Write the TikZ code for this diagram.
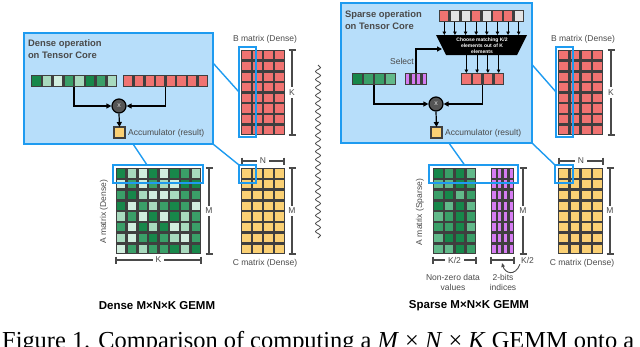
\documentclass[tikz,border=0pt]{standalone}
\usepackage{fontspec}
\setmainfont{Liberation Sans}
\newfontfamily\capfont{Liberation Serif}
\usetikzlibrary{arrows.meta,calc,decorations.pathmorphing}
\definecolor{panelfill}{HTML}{B7DEFA}
\definecolor{panelblue}{HTML}{1E9BF0}
\definecolor{gridc}{HTML}{3F3F3F}
\definecolor{g1}{HTML}{17874A}
\definecolor{g2}{HTML}{3A9F68}
\definecolor{g3}{HTML}{A8DABE}
\definecolor{g4}{HTML}{D2EEDF}
\definecolor{g5}{HTML}{62B98A}
\definecolor{cr}{HTML}{F07371}
\definecolor{cy}{HTML}{FAD074}
\definecolor{cp}{HTML}{D57CF2}
\definecolor{cg}{HTML}{E4E4E4}
\definecolor{txt}{HTML}{4A4A4A}
\definecolor{mulc}{HTML}{555555}
\newcommand\labfont{\fontsize{8.5}{10}\selectfont}
\newcommand\ttlfont{\bfseries\fontsize{9.4}{12.5}\selectfont}
\newcommand\gemmfont{\bfseries\fontsize{11.5}{13}\selectfont}
\newcommand\chsfont{\bfseries\fontsize{5}{5.8}\selectfont}
\def\gp{1.25}
\newcommand\gridbg[4]{\fill[gridc] ({#1-0.4},{#2-0.4}) rectangle ({#3+0.4},{#4+0.4});}
\newcommand\unigrid[7]{\foreach \i in {1,...,#5}{\foreach \j in {1,...,#6}{\fill[#7] ({#1+(\i-1)*#3+\gp},{#2+(\j-1)*#4+\gp}) rectangle ({#1+\i*#3-\gp},{#2+\j*#4-\gp});}}}
\newcommand\patgrid[5]{\foreach \rw [count=\j from 0] in {#5}{\foreach \cc [count=\i from 0] in \rw{\fill[\cc] ({#1+\i*#3+\gp},{#2+\j*#4+\gp}) rectangle ({#1+(\i+1)*#3-\gp},{#2+(\j+1)*#4-\gp});}}}
\newcommand\vdim[5]{\draw[dim] ({#1-3.5},#2) -- ({#1+3.5},#2) (#1,#2) -- (#1,#3) ({#1-3.5},#3) -- ({#1+3.5},#3); \node[dimlab] (#5) at (#1,{(#2+#3)/2}) {#4};}
\newcommand\hdim[5]{\draw[dim] (#2,{#1-3.5}) -- (#2,{#1+3.5}) (#2,#1) -- (#3,#1) (#3,{#1-3.5}) -- (#3,{#1+3.5}); \node[dimlab, inner xsep=3pt] (#5) at ({(#2+#3)/2},#1) {#4};}
\begin{document}
\begin{tikzpicture}[x=1pt,y=-1pt,
  box/.style={anchor=north west, inner sep=0pt, outer sep=0pt},
  panel/.style={box, draw=panelblue, fill=panelfill, line width=1.8pt},
  hl/.style={box, draw=panelblue, line width=1.8pt},
  link/.style={draw=panelblue, line width=1.4pt},
  arr/.style={line width=1.2pt, -{Triangle[length=5pt,width=5pt]}},
  sarr/.style={line width=0.9pt, -{Triangle[length=3.5pt,width=3.5pt]}},
  dim/.style={line width=1.1pt, draw=txt},
  dimlab/.style={fill=white, inner xsep=1pt, inner ysep=2.5pt, text=txt, font=\labfont},
  lbl/.style={text=txt, font=\labfont, inner sep=1pt},
  mul/.style={circle, fill=mulc, draw=black, line width=1.2pt, minimum size=14pt, inner sep=0pt, text=white!85!black, font=\fontsize{7}{7}\selectfont},
  acc/.style={box, fill=cy, draw=gridc, line width=1.2pt, minimum width=11pt, minimum height=11pt}
]
\useasboundingbox (0,0) rectangle (640,346);
\clip (0,0) rectangle (640,346);

%================ LEFT: dense =================
\node[panel, minimum width=189pt, minimum height=111pt] (lpanel) at (24,33) {};
\node[box, align=left, font=\ttlfont, text=txt] (ltitle) at (28,39.5) {Dense operation\\on Tensor Core};
% rows
\node[box, minimum width=86pt, minimum height=12pt] (lgreen) at (31,75) {};
\gridbg{31}{75}{117}{87}
\patgrid{31}{75}{10.75}{12}{{g1,g3,g4,g2,g3,g1,g2,g3}}
\node[box, minimum width=85pt, minimum height=12pt] (lred) at (123,75) {};
\gridbg{123}{75}{208}{87}
\unigrid{123}{75}{10.625}{12}{8}{1}{cr}
\node[mul] (lmul) at (119,106) {x};
\node[acc] (lacc) at (114,127) {};
\node[lbl, anchor=west] (lacclab) at (127,133) {Accumulator (result)};
\draw[arr] (lgreen.south) |- (lmul.west);
\draw[arr] (lred.south) |- (lmul.east);
\draw[arr] (lmul.south) -- (lacc.north);

% B matrix
\node[lbl] (lblab) at (265,39) {B matrix (Dense)};
\gridbg{241}{50}{285}{135}
\unigrid{241}{50}{11}{10.625}{4}{8}{cr}
\vdim{292}{50}{135}{K}{lbk}
% C matrix
\gridbg{241}{168}{285}{254}
\unigrid{241}{168}{11}{10.75}{4}{8}{cy}
\vdim{292}{168}{254}{M}{lcm}
\hdim{161}{242}{284}{N}{lcn}
\node[lbl] (lclab) at (265,263) {C matrix (Dense)};
% A matrix
\gridbg{116}{168}{201}{254}
\patgrid{116}{168}{10.625}{10.75}{{g1,g3,g4,g1,g4,g1,g2,g3},{g4,g2,g4,g2,g3,g4,g1,g1},{g2,g1,g3,g4,g4,g3,g2,g2},{g1,g4,g2,g3,g2,g1,g2,g4},{g3,g2,g4,g1,g4,g1,g3,g2},{g2,g4,g1,g3,g1,g4,g3,g2},{g3,g4,g2,g1,g2,g3,g4,g2},{g4,g2,g3,g2,g2,g1,g3,g1}}
\vdim{209}{168}{254}{M}{lam}
\hdim{260}{116}{201}{K}{lak}
\node[lbl, rotate=90] (lalab) at (104,212) {A matrix (Dense)};
% highlights
\node[hl, minimum width=17pt, minimum height=90pt] (lbh) at (239,47) {};
\node[hl, minimum width=17pt, minimum height=18pt] (lch) at (239,165) {};
\node[hl, minimum width=90pt, minimum height=18pt] (lah) at (113,165) {};
\draw[link] ($(lpanel.north east)!0.27!(lpanel.south east)$) -- (lbh.west);
\draw[link] (lpanel.south east) -- (lch.north west);
\draw[link] ($(lpanel.south west)!0.577!(lpanel.south east)$) -- ($(lah.north west)!0.378!(lah.north east)$);
\node[font=\gemmfont] (ltit) at (157,306) {Dense M×N×K GEMM};

% separator
\coordinate (wt) at (318,65);
\coordinate (wb) at (318,238);
\draw[txt, line width=0.8pt, decorate, decoration={snake, amplitude=2.5pt, segment length=8pt}] (wt) -- (wb);

%================ RIGHT: sparse =================
\node[panel, minimum width=191pt, minimum height=140pt] (rpanel) at (341,3) {};
\node[box, align=left, font=\ttlfont, text=txt] (rtitle) at (345,10.5) {Sparse operation\\on Tensor Core};
% top row
\node[box, minimum width=85pt, minimum height=12pt] (rtop) at (439,10) {};
\gridbg{439}{10}{524}{22}
\patgrid{439}{10}{10.625}{12}{{cr,cg,cg,cr,cg,cr,cr,cg}}
% chooser
\fill[black] (436,35) -- (527,35) -- (517,55) -- (446,55) -- cycle;
\coordinate (trapT) at (482,35);
\coordinate (trapB) at (482,55);
\coordinate (trapL) at (442,49);
\node[font=\chsfont, text=white, align=center, inner sep=0pt] (chooser) at (482,46) {Choose matching K/2\\elements out of K\\elements};
\foreach \i in {1,...,8}{
  \path ($(rtop.south west)!{(\i-0.5)/8}!(rtop.south east)$) coordinate (tt);
  \draw[sarr] (tt) -- (tt |- trapT);
}
% rows
\node[box, minimum width=44pt, minimum height=12pt] (rgreen) at (352,73) {};
\gridbg{352}{73}{396}{85}
\patgrid{352}{73}{11}{12}{{g1,g2,g2,g5}}
\node[box, minimum width=22pt, minimum height=12pt] (rpurp) at (405,73) {};
\gridbg{405}{73}{427}{85}
\unigrid{405}{73}{5.5}{12}{4}{1}{cp}
\node[box, minimum width=43pt, minimum height=12pt] (rred) at (461,73) {};
\gridbg{461}{73}{504}{85}
\unigrid{461}{73}{10.75}{12}{4}{1}{cr}
\foreach \i in {1,...,4}{
  \path ($(rred.north west)!{(\i-0.5)/4}!(rred.north east)$) coordinate (tb);
  \draw[sarr] (tb |- trapB) -- (tb);
}
\node[lbl, anchor=east] (sel) at (415,61) {Select};
\draw[arr] (rpurp.north) |- (trapL);
\node[mul] (rmul) at (436,104) {x};
\node[acc] (racc) at (431,127) {};
\node[lbl, anchor=west] (racclab) at (444,133) {Accumulator (result)};
\draw[arr] (rgreen.south) |- (rmul.west);
\draw[arr] (rred.south) |- (rmul.east);
\draw[arr] (rmul.south) -- (racc.north);

% B matrix
\node[lbl] (rblab) at (583,39) {B matrix (Dense)};
\gridbg{558}{50}{603}{135}
\unigrid{558}{50}{11.25}{10.625}{4}{8}{cr}
\vdim{611}{50}{135}{K}{rbk}
% C matrix
\gridbg{558}{168}{603}{254}
\unigrid{558}{168}{11.25}{10.75}{4}{8}{cy}
\vdim{610}{168}{254}{M}{rcm}
\hdim{161}{559}{603}{N}{rcn}
\node[lbl] (rclab) at (582,263) {C matrix (Dense)};
% A sparse
\gridbg{433}{168}{476}{254}
\patgrid{433}{168}{10.75}{10.75}{{g1,g2,g1,g5},{g5,g5,g1,g2},{g2,g1,g5,g2},{g1,g5,g1,g5},{g5,g2,g1,g2},{g2,g2,g1,g5},{g5,g1,g1,g2},{g5,g5,g1,g2}}
\gridbg{491}{168}{514}{254}
\unigrid{491}{168}{5.75}{10.75}{4}{8}{cp}
\vdim{523}{168}{254}{M}{ram}
\hdim{260}{433}{476}{K/2}{rak}
\draw[dim] (491,256.5) -- (491,263.5) (491,260) -- (514,260) (514,256.5) -- (514,263.5);
\coordinate (pbr) at (502,263);
\node[lbl] (rk2) at (527.5,260) {K/2};
\draw[draw=txt, line width=0.9pt, -{Triangle[length=4pt,width=3.5pt]}] (rk2.south west) .. controls (515,277) and (505,273) .. (pbr);
\node[lbl, rotate=90] (ralab) at (420,212) {A matrix (Sparse)};
\node[lbl, align=center] (nzlab) at (453,282) {Non-zero data\\values};
\node[lbl, align=center] (idxlab) at (503,282) {2-bits\\indices};
% highlights
\node[hl, minimum width=17pt, minimum height=90pt] (rbh) at (556,47) {};
\node[hl, minimum width=18pt, minimum height=18pt] (rch) at (555,165) {};
\node[hl, minimum width=89pt, minimum height=18pt] (rah) at (429,165) {};
\draw[link] ($(rpanel.north east)!0.44!(rpanel.south east)$) -- (rbh.west);
\draw[link] (rpanel.south east) -- (rch.north west);
\draw[link] ($(rpanel.south west)!0.565!(rpanel.south east)$) -- ($(rah.north west)!0.40!(rah.north east)$);
\node[font=\gemmfont] (rtit) at (469,306) {Sparse M×N×K GEMM};

% caption (cut off at the bottom edge, as in the reference)
\node[anchor=base west, inner sep=0pt, font=\capfont\fontsize{24.4}{28}\selectfont] (cap) at (2,348) {Figure 1. Comparison of computing a \textit{M} × \textit{N} × \textit{K} GEMM onto a};
\end{tikzpicture}
\end{document}
